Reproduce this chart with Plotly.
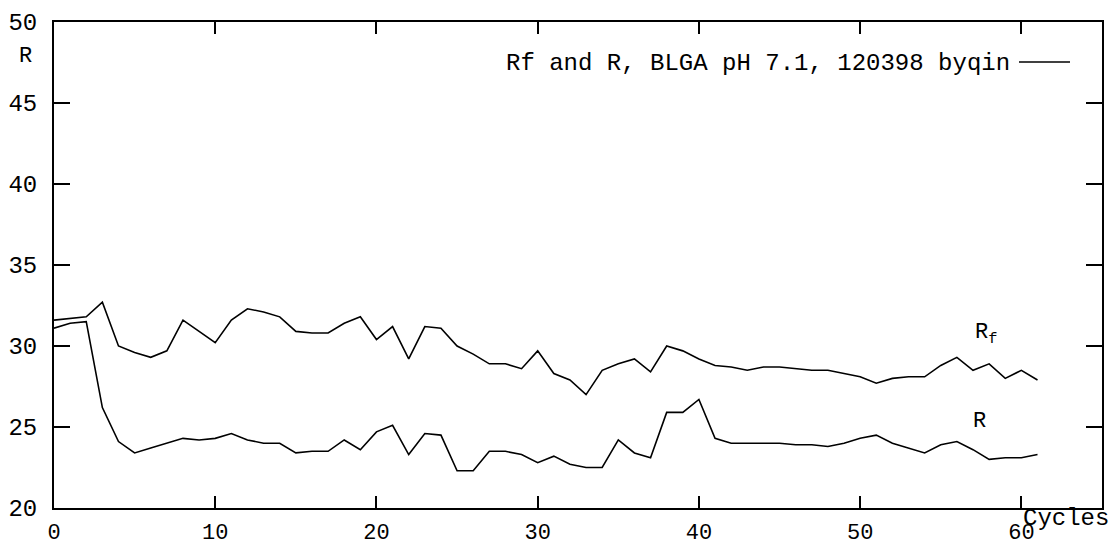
import plotly.graph_objects as go

cycles = list(range(0, 62))

rf_values = [31.6, 31.7, 31.8, 32.7, 30.0, 29.6, 29.3, 29.7, 31.6, 30.9,
             30.2, 31.6, 32.3, 32.1, 31.8, 30.9, 30.8, 30.8, 31.4, 31.8,
             30.4, 31.2, 29.2, 31.2, 31.1, 30.0, 29.5, 28.9, 28.9, 28.6,
             29.7, 28.3, 27.9, 27.0, 28.5, 28.9, 29.2, 28.4, 30.0, 29.7,
             29.2, 28.8, 28.7, 28.5, 28.7, 28.7, 28.6, 28.5, 28.5, 28.3,
             28.1, 27.7, 28.0, 28.1, 28.1, 28.8, 29.3, 28.5, 28.9, 28.0,
             28.5, 27.9]

r_values = [31.1, 31.4, 31.5, 26.2, 24.1, 23.4, 23.7, 24.0, 24.3, 24.2,
            24.3, 24.6, 24.2, 24.0, 24.0, 23.4, 23.5, 23.5, 24.2, 23.6,
            24.7, 25.1, 23.3, 24.6, 24.5, 22.3, 22.3, 23.5, 23.5, 23.3,
            22.8, 23.2, 22.7, 22.5, 22.5, 24.2, 23.4, 23.1, 25.9, 25.9,
            26.7, 24.3, 24.0, 24.0, 24.0, 24.0, 23.9, 23.9, 23.8, 24.0,
            24.3, 24.5, 24.0, 23.7, 23.4, 23.9, 24.1, 23.6, 23.0, 23.1,
            23.1, 23.3]

x_ticks = [0, 10, 20, 30, 40, 50, 60]
y_ticks = [20, 25, 30, 35, 40, 45, 50]

FONT = "Liberation Mono"
FS = 24

fig = go.Figure()
fig.add_trace(go.Scatter(x=cycles, y=rf_values, mode="lines",
                         line=dict(color="black", width=1.6), name="Rf",
                         showlegend=False))
fig.add_trace(go.Scatter(x=cycles, y=r_values, mode="lines",
                         line=dict(color="black", width=1.6), name="R",
                         showlegend=False))

fig.update_layout(
    width=1118, height=547,
    margin=dict(l=54, r=16, t=22, b=39),
    paper_bgcolor="white", plot_bgcolor="white",
    font=dict(family=FONT, color="black", size=FS),
    xaxis=dict(range=[0, 65], tickvals=x_ticks, ticktext=[str(v) for v in x_ticks],
               showgrid=False, zeroline=False, showline=True, linecolor="black",
               linewidth=2, mirror="ticks", ticks="inside", ticklen=12,
               tickwidth=2, tickcolor="black", ticklabelstandoff=3,
               automargin=False, tickfont=dict(family=FONT, size=22)),
    yaxis=dict(range=[20, 50], tickvals=y_ticks, ticktext=[str(v) for v in y_ticks],
               showgrid=False, zeroline=False, showline=True, linecolor="black",
               linewidth=2, mirror="ticks", ticks="inside", ticklen=16,
               tickwidth=2, tickcolor="black", ticklabelstandoff=10,
               automargin=False, tickfont=dict(family=FONT, size=FS)),
    showlegend=False,
)

annotations = [
    dict(text="Rf and R, BLGA pH 7.1, 120398 byqin", x=1012, y=63,
         xanchor="right", yanchor="middle", font=dict(family=FONT, size=FS)),
    dict(text="R", x=25, y=57, xanchor="center", yanchor="middle",
         font=dict(family=FONT, size=FS - 2)),
    dict(text="Cycles", x=1066, y=518, xanchor="center", yanchor="middle",
         font=dict(family=FONT, size=FS)),
    dict(text="R<sub>f</sub>", x=986, y=334, xanchor="center", yanchor="middle",
         font=dict(family=FONT, size=FS - 2)),
    dict(text="R", x=980, y=421, xanchor="center", yanchor="middle",
         font=dict(family=FONT, size=FS - 2)),
]
W, H = 1118, 547
for a in annotations:
    a["xref"] = "paper"
    a["yref"] = "paper"
    a["x"] = (a["x"] - 54) / (W - 54 - 16)
    a["y"] = 1 - (a["y"] - 22) / (H - 22 - 39)
    a["showarrow"] = False
fig.update_layout(annotations=annotations)

# legend line sample
fig.add_shape(type="line", xref="paper", yref="paper",
              x0=(1019 - 54) / 1048, x1=(1070 - 54) / 1048,
              y0=1 - (62 - 22) / 486, y1=1 - (62 - 22) / 486,
              line=dict(color="black", width=1.6))

fig.write_html("out.html")
